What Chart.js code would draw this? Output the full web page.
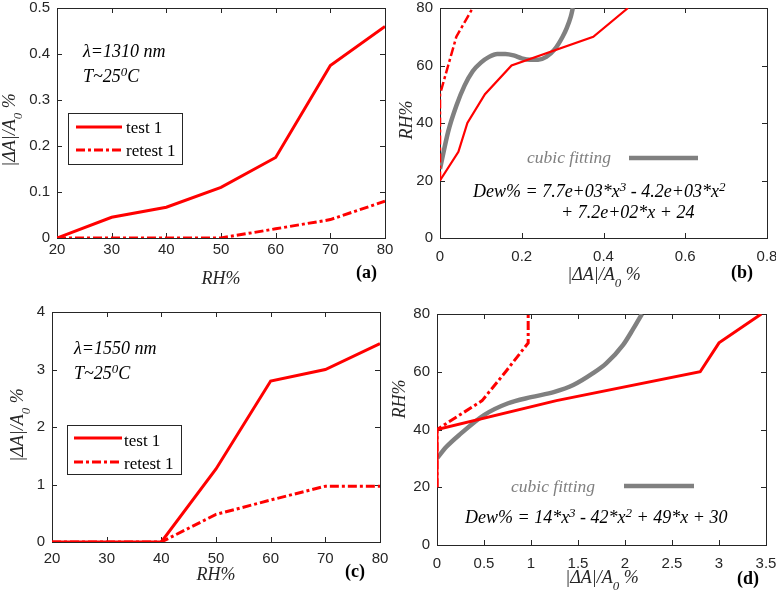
<!DOCTYPE html>
<html>
<head>
<meta charset="utf-8">
<script src="https://cdn.jsdelivr.net/npm/chart.js@4.4.1/dist/chart.umd.min.js"></script>
<style>
  html, body { margin: 0; padding: 0; background: #fff; }
  body { position: relative; width: 776px; height: 598px; overflow: hidden; }
  canvas { position: absolute; }
</style>
</head>
<body>
<canvas id="pa"></canvas>
<canvas id="pb"></canvas>
<canvas id="pc"></canvas>
<canvas id="pd"></canvas>
<script>
const rh = [20, 30, 40, 50, 60, 70, 80];
const test1310 = [0, 0.045, 0.067, 0.11, 0.175, 0.375, 0.46];
const retest1310 = [0, 0, 0, 0, 0.02, 0.04, 0.08];
const test1550 = [0, 0, 0, 1.27, 2.8, 3.0, 3.45];
const retest1550 = [0, 0, 0, 0.48, 0.73, 0.97, 0.97];

// cubic fitting curves, as traced on the figure
const fit1310X = [0, 0.02, 0.04, 0.06, 0.08, 0.1, 0.12, 0.14, 0.16, 0.18, 0.2, 0.22, 0.24, 0.26, 0.28, 0.3, 0.31, 0.32, 0.325];
const fit1310Y = [24, 37, 46, 53, 58, 61, 63, 64, 64, 63.5, 62.5, 62, 62, 63, 65.5, 70, 73, 77, 80];
const fit1550X = [0, 0.1, 0.25, 0.5, 0.75, 1, 1.25, 1.45, 1.66, 1.8, 1.98, 2.09, 2.18];
const fit1550Y = [30, 34, 38.5, 45, 49, 51.2, 53, 55.4, 59.5, 62.9, 69.3, 75, 80];

const seriesLabels = ['test 1', 'retest 1'];
const fitLabel = 'cubic fitting';

const SERIF = '"Liberation Serif", "Times New Roman", serif';
const SANS = '"Liberation Sans", Arial, sans-serif';
const AXIS = '#262626';
const RED = '#ff0000';
const GRAY = '#808080';
const DASHDOT = [9, 3, 3, 3];

const pts = (xs, ys) => xs.map((x, i) => ({ x, y: ys[i] }));
const fmt = v => String(Math.round(v * 100) / 100);

function rich(ctx, t) {
  const size = t.size || 18;
  const style = t.style || 'italic';
  const fontFor = k => `${style} ${k === 'n' ? size : Math.round(size * 0.72)}px ${SERIF}`;
  let w = 0;
  t.segs.forEach(([s, k = 'n']) => { ctx.font = fontFor(k); w += ctx.measureText(s).width; });
  ctx.save();
  ctx.translate(t.x, t.y);
  if (t.rot) ctx.rotate(-Math.PI / 2);
  ctx.fillStyle = t.color || '#000';
  ctx.textAlign = 'left';
  ctx.textBaseline = 'alphabetic';
  let cx = t.align === 'center' ? -w / 2 : 0;
  t.segs.forEach(([s, k = 'n']) => {
    ctx.font = fontFor(k);
    const dy = k === 'sub' ? size * 0.38 : k === 'sup' ? -size * 0.36 : 0;
    ctx.fillText(s, cx, dy);
    cx += ctx.measureText(s).width;
  });
  ctx.restore();
}

function strokeSample(ctx, ds, x1, x2, y) {
  ctx.save();
  ctx.strokeStyle = ds.borderColor;
  ctx.lineWidth = ds.borderWidth;
  ctx.setLineDash(ds.borderDash || []);
  ctx.beginPath();
  ctx.moveTo(x1, y);
  ctx.lineTo(x2, y);
  ctx.stroke();
  ctx.restore();
}

// MATLAB-like box with inward ticks, texts and legend
const panelPlugin = {
  id: 'panel',
  beforeDatasetsDraw(chart, args, o) {
    const { ctx, chartArea: a, scales } = chart;
    ctx.save();
    ctx.strokeStyle = AXIS;
    ctx.lineWidth = 1;
    ctx.strokeRect(a.left + 0.5, a.top + 0.5, a.right - a.left, a.bottom - a.top);
    ctx.beginPath();
    scales.x.ticks.forEach(t => {
      const px = Math.round(scales.x.getPixelForValue(t.value)) + 0.5;
      ctx.moveTo(px, a.bottom); ctx.lineTo(px, a.bottom - 5);
      ctx.moveTo(px, a.top); ctx.lineTo(px, a.top + 5);
    });
    scales.y.ticks.forEach(t => {
      const py = Math.round(scales.y.getPixelForValue(t.value)) + 0.5;
      ctx.moveTo(a.left, py); ctx.lineTo(a.left + 5, py);
      ctx.moveTo(a.right, py); ctx.lineTo(a.right - 5, py);
    });
    ctx.stroke();
    ctx.restore();
  },
  afterDatasetsDraw(chart, args, o) {
    const ctx = chart.ctx;
    const ds = chart.data.datasets;
    ctx.save();
    ctx.translate(-o.ox, -o.oy);
    (o.texts || []).forEach(t => rich(ctx, t));
    if (o.legend) {
      const L = o.legend;
      ctx.fillStyle = '#fff';
      ctx.fillRect(L.box[0], L.box[1], L.box[2] - L.box[0], L.box[3] - L.box[1]);
      ctx.strokeStyle = AXIS;
      ctx.lineWidth = 1;
      ctx.strokeRect(L.box[0] + 0.5, L.box[1] + 0.5, L.box[2] - L.box[0], L.box[3] - L.box[1]);
      [0, 1].forEach(i => {
        strokeSample(ctx, ds[i], L.lineX[0], L.lineX[1], L.lineY[i]);
        ctx.font = `17px ${SERIF}`;
        ctx.fillStyle = '#000';
        ctx.textAlign = 'left';
        ctx.textBaseline = 'alphabetic';
        ctx.fillText(ds[i].label, L.textX, L.base[i]);
      });
    }
    if (o.fitKey) {
      const F = o.fitKey;
      const fit = ds[2];
      rich(ctx, { segs: [[fit.label]], x: F.textX, y: F.base, color: fit.borderColor, size: 17.5 });
      strokeSample(ctx, { borderColor: fit.borderColor, borderWidth: fit.borderWidth }, F.lineX[0], F.lineX[1], F.lineY);
    }
    ctx.restore();
  }
};

function makeChart(id, c) {
  const canvas = document.getElementById(id);
  canvas.width = c.cw;
  canvas.height = c.ch;
  canvas.style.left = c.cx + 'px';
  canvas.style.top = c.cy + 'px';
  const tickFont = { family: SANS, size: 15 };
  return new Chart(canvas, {
    type: 'scatter',
    data: { datasets: c.datasets },
    options: {
      responsive: false,
      animation: false,
      events: [],
      layout: { padding: { top: c.T - c.cy, right: c.cx + c.cw - c.R, left: 0, bottom: 0 } },
      plugins: {
        legend: { display: false },
        tooltip: { enabled: false },
        panel: Object.assign({ ox: c.cx, oy: c.cy }, c.panel)
      },
      scales: {
        x: {
          type: 'linear', min: c.x.min, max: c.x.max,
          ticks: { stepSize: c.x.step, color: AXIS, font: tickFont, padding: c.x.pad, autoSkip: false, maxRotation: 0, callback: fmt },
          grid: { display: false, drawTicks: false },
          border: { display: false },
          afterFit: s => { s.height = c.cy + c.ch - c.B; }
        },
        y: {
          type: 'linear', min: c.y.min, max: c.y.max,
          ticks: { stepSize: c.y.step, color: AXIS, font: tickFont, padding: 7, autoSkip: false, callback: fmt },
          grid: { display: false, drawTicks: false },
          border: { display: false },
          afterFit: s => { s.width = c.L - c.cx; }
        }
      }
    },
    plugins: [panelPlugin]
  });
}

const line = (label, data, extra) => Object.assign({
  label, data, showLine: true, borderColor: RED, backgroundColor: RED,
  borderWidth: 3, pointRadius: 0, tension: 0
}, extra);

const fitLine = (data) => line(fitLabel, data, {
  borderColor: GRAY, backgroundColor: GRAY, borderWidth: 4.5,
  cubicInterpolationMode: 'monotone', order: 2
});

const dAseg = [['|ΔA|/A'], ['0', 'sub'], [' %']];

// (a) 1310 nm, |dA| vs RH
makeChart('pa', {
  cx: 0, cy: -12, cw: 405, ch: 312,
  L: 57, T: 8, R: 385, B: 238,
  x: { min: 20, max: 80, step: 10, pad: 3 },
  y: { min: 0, max: 0.5, step: 0.1 },
  datasets: [
    line(seriesLabels[0], pts(rh, test1310), { order: 1 }),
    line(seriesLabels[1], pts(rh, retest1310), { borderDash: DASHDOT, order: 0 })
  ],
  panel: {
    texts: [
      { segs: [['λ=1310 nm']], x: 83, y: 57 },
      { segs: [['T~25'], ['0', 'sup'], ['C']], x: 83, y: 82 },
      { segs: [['RH%']], x: 221, y: 284, align: 'center', color: AXIS },
      { segs: dAseg, x: 15, y: 130, align: 'center', rot: true, color: AXIS },
      { segs: [['(a)']], x: 356, y: 278, style: 'bold' }
    ],
    legend: { box: [68, 113, 182, 164], lineX: [76, 122], lineY: [127, 150], textX: 126, base: [133, 156] }
  }
});

// (b) 1310 nm, RH vs |dA| with cubic fit
makeChart('pb', {
  cx: 390, cy: -12, cw: 410, ch: 312,
  L: 440, T: 8, R: 767, B: 238,
  x: { min: 0, max: 0.8, step: 0.2, pad: 10 },
  y: { min: 0, max: 80, step: 20 },
  datasets: [
    line(seriesLabels[0], pts(test1310, rh), { borderWidth: 2.2, order: 1 }),
    line(seriesLabels[1], pts(retest1310, rh), { borderWidth: 2.5, borderDash: DASHDOT, order: 0 }),
    fitLine(pts(fit1310X, fit1310Y))
  ],
  panel: {
    texts: [
      { segs: [['Dew% = 7.7e+03*x'], ['3', 'sup'], [' - 4.2e+03*x'], ['2', 'sup']], x: 473, y: 197 },
      { segs: [['+ 7.2e+02*x + 24']], x: 561, y: 218 },
      { segs: dAseg, x: 604, y: 280, align: 'center', color: AXIS },
      { segs: [['RH%']], x: 412, y: 120, align: 'center', rot: true, color: AXIS },
      { segs: [['(b)']], x: 731, y: 278, style: 'bold' }
    ],
    fitKey: { textX: 527, base: 163, lineX: [629, 698], lineY: 158 }
  }
});

// (c) 1550 nm, |dA| vs RH
makeChart('pc', {
  cx: 0, cy: 292, cw: 400, ch: 320,
  L: 52, T: 312, R: 380, B: 542,
  x: { min: 20, max: 80, step: 10, pad: 8 },
  y: { min: 0, max: 4, step: 1 },
  datasets: [
    line(seriesLabels[0], pts(rh, test1550), { order: 1 }),
    line(seriesLabels[1], pts(rh, retest1550), { borderDash: DASHDOT, order: 0 })
  ],
  panel: {
    texts: [
      { segs: [['λ=1550 nm']], x: 74, y: 354 },
      { segs: [['T~25'], ['0', 'sup'], ['C']], x: 74, y: 379 },
      { segs: [['RH%']], x: 216, y: 580, align: 'center', color: AXIS },
      { segs: dAseg, x: 23, y: 425, align: 'center', rot: true, color: AXIS },
      { segs: [['(c)']], x: 345, y: 577, style: 'bold' }
    ],
    legend: { box: [67, 425, 181, 474], lineX: [74, 122], lineY: [438, 462], textX: 124, base: [446, 469] }
  }
});

// (d) 1550 nm, RH vs |dA| with cubic fit
makeChart('pd', {
  cx: 385, cy: 294, cw: 415, ch: 318,
  L: 437, T: 314, R: 766, B: 545,
  x: { min: 0, max: 3.5, step: 0.5, pad: 10 },
  y: { min: 0, max: 80, step: 20 },
  datasets: [
    line(seriesLabels[0], pts(test1550, rh), { order: 0 }),
    line(seriesLabels[1], pts(retest1550, rh), { borderDash: DASHDOT, order: 1 }),
    fitLine(pts(fit1550X, fit1550Y))
  ],
  panel: {
    texts: [
      { segs: [['Dew% = 14*x'], ['3', 'sup'], [' - 42*x'], ['2', 'sup'], [' + 49*x + 30']], x: 465, y: 523 },
      { segs: dAseg, x: 602, y: 583, align: 'center', color: AXIS },
      { segs: [['RH%']], x: 405, y: 399, align: 'center', rot: true, color: AXIS },
      { segs: [['(d)']], x: 737, y: 584, style: 'bold' }
    ],
    fitKey: { textX: 511, base: 492, lineX: [624, 694], lineY: 486 }
  }
});
</script>
</body>
</html>
